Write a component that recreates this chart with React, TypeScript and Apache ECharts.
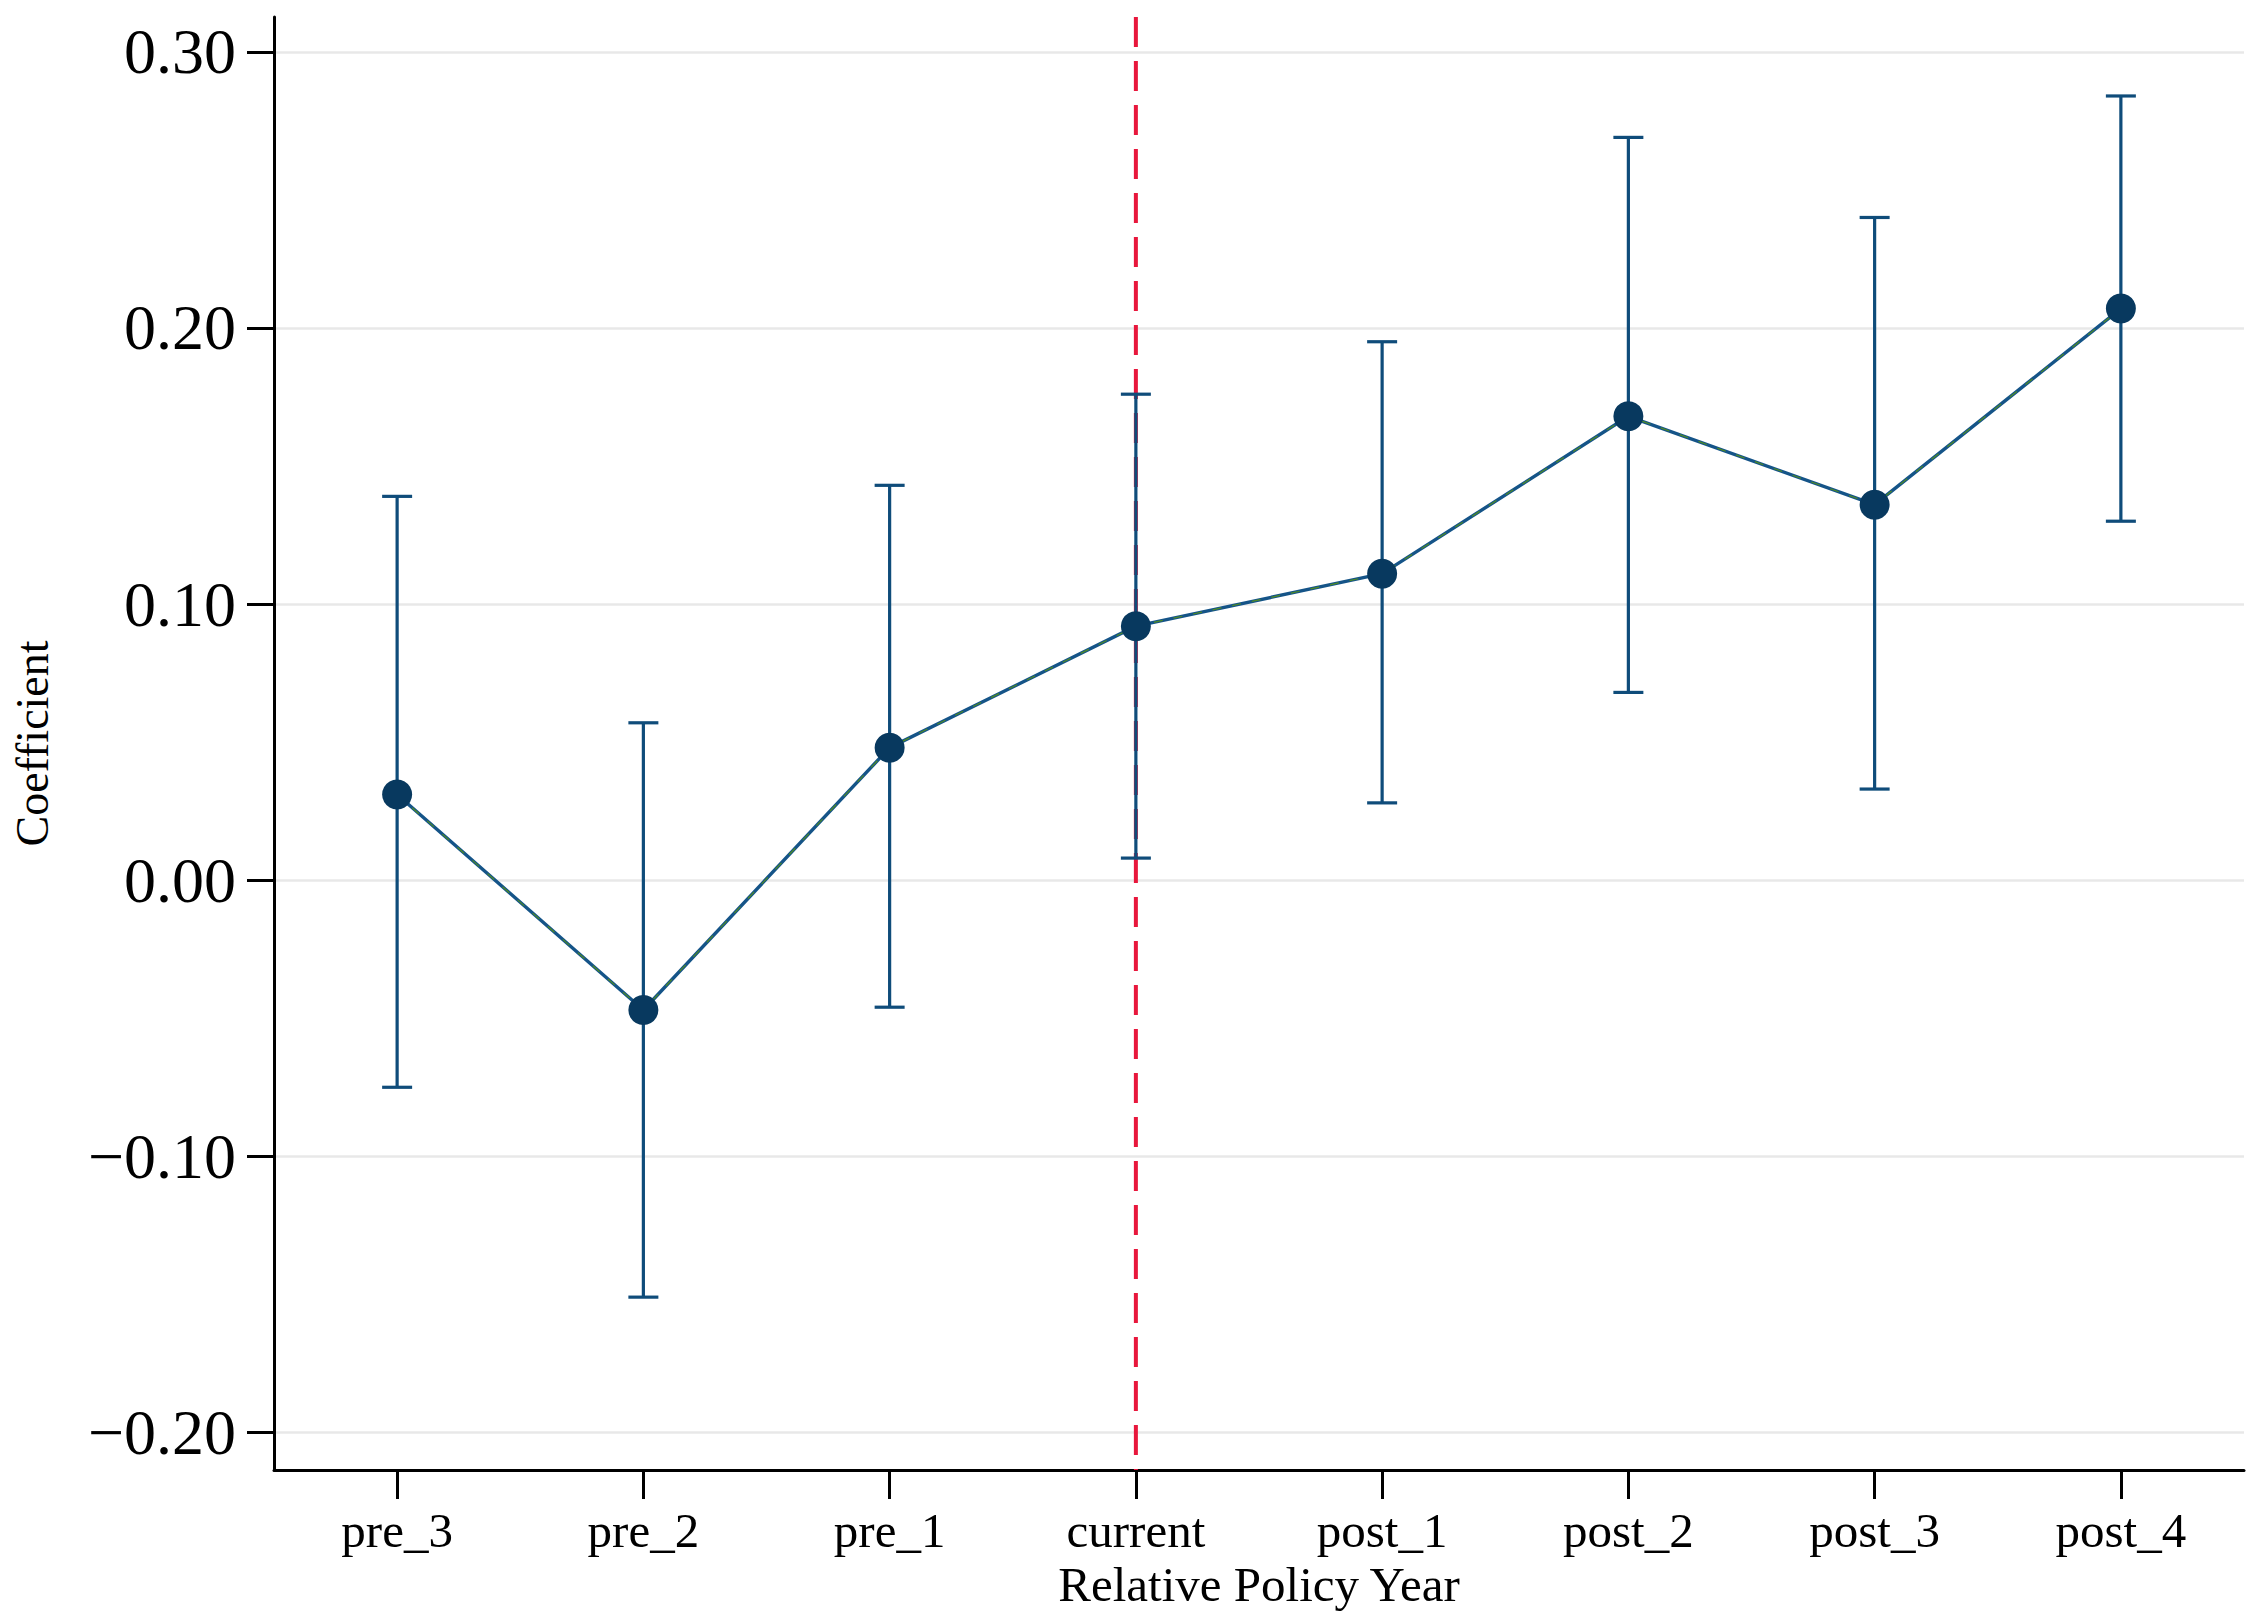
import React, { useEffect, useRef } from "react";
import * as echarts from "echarts";

const categories = ["pre_3", "pre_2", "pre_1", "current", "post_1", "post_2", "post_3", "post_4"];
const coefficients = [0.031, -0.047, 0.048, 0.092, 0.111, 0.168, 0.136, 0.207];
const upperCI = [0.139, 0.057, 0.143, 0.176, 0.195, 0.269, 0.240, 0.284];
const lowerCI = [-0.075, -0.151, -0.046, 0.008, 0.028, 0.068, 0.033, 0.130];
const yTickValues = [-0.2, -0.1, 0, 0.1, 0.2, 0.3];
const policyCategory = "current";
const xAxisTitle = "Relative Policy Year";
const yAxisTitle = "Coefficient";

const FONT = '"Liberation Serif", "Times New Roman", serif';

export default function App() {
  const ref = useRef<HTMLDivElement>(null);

  useEffect(() => {
    document.body.style.margin = "0";
    document.body.style.overflow = "hidden";
    const chart = echarts.init(ref.current!, null, { renderer: "svg" });
    const barColor = "#0f4c7a";
    const option: any = {
      animation: false,
      backgroundColor: "#ffffff",
      grid: { left: 274, right: 15, top: 17, bottom: 152, containLabel: false },
      xAxis: {
        type: "category",
        data: categories,
        boundaryGap: true,
        axisLine: { show: true, onZero: false, lineStyle: { color: "#000", width: 3 } },
        axisTick: { show: true, alignWithLabel: true, length: 29, lineStyle: { color: "#000", width: 3 } },
        axisLabel: { color: "#000", fontSize: 49, fontFamily: FONT, margin: 36 },
        splitLine: { show: false },
        name: xAxisTitle,
        nameLocation: "middle",
        nameGap: 87,
        nameTextStyle: { color: "#000", fontSize: 49, fontFamily: FONT },
      },
      yAxis: {
        type: "value",
        min: -0.2136,
        max: 0.3126,
        axisLine: { show: true, lineStyle: { color: "#000", width: 3 } },
        axisTick: { show: true, length: 27, customValues: yTickValues, lineStyle: { color: "#000", width: 3 } },
        axisLabel: {
          customValues: yTickValues,
          color: "#000",
          fontSize: 64,
          fontFamily: FONT,
          margin: 38,
          formatter: (v: number) => (v < -1e-9 ? "\u2212" : "") + Math.abs(v).toFixed(2),
        },
        splitLine: { show: true, lineStyle: { color: "#e8e8e8", width: 2.5 } },
        name: yAxisTitle,
        nameLocation: "middle",
        nameGap: 219,
        nameTextStyle: { color: "#000", fontSize: 46, fontFamily: FONT },
      },
      series: [
        {
          type: "custom",
          name: "policy",
          z: 1,
          silent: true,
          data: [[categories.indexOf(policyCategory), 0]],
          encode: { x: 0, y: 1 },
          renderItem: (params: any, api: any) => {
            const cs = params.coordSys;
            const x = api.coord([api.value(0), 0])[0];
            return {
              type: "line",
              shape: { x1: x, y1: cs.y, x2: x, y2: cs.y + cs.height },
              style: { stroke: "#e8173c", lineWidth: 4, lineDash: [30, 14] },
            };
          },
        },
        {
          type: "custom",
          name: "ci",
          z: 2,
          silent: true,
          data: categories.map((_, i) => [i, lowerCI[i], upperCI[i]]),
          encode: { x: 0, y: [1, 2] },
          renderItem: (params: any, api: any) => {
            const x = api.value(0);
            const pLo = api.coord([x, api.value(1)]);
            const pHi = api.coord([x, api.value(2)]);
            const half = 15;
            const st = { stroke: barColor, lineWidth: 3.2 };
            return {
              type: "group",
              children: [
                { type: "line", shape: { x1: pHi[0], y1: pHi[1], x2: pLo[0], y2: pLo[1] }, style: st },
                { type: "line", shape: { x1: pHi[0] - half, y1: pHi[1], x2: pHi[0] + half, y2: pHi[1] }, style: st },
                { type: "line", shape: { x1: pLo[0] - half, y1: pLo[1], x2: pLo[0] + half, y2: pLo[1] }, style: st },
              ],
            };
          },
        },
        {
          type: "line",
          name: "coef",
          z: 3,
          data: coefficients,
          symbol: "none",
          lineStyle: { color: "#155488", width: 3.4, opacity: 1 },
        },
        {
          type: "line",
          name: "coefdash",
          z: 4,
          data: coefficients,
          symbol: "none",
          lineStyle: { color: "#4f8a25", width: 1.2, type: [9, 11], opacity: 1 },
        },
        {
          type: "scatter",
          name: "points",
          z: 5,
          data: coefficients,
          symbol: "circle",
          symbolSize: 30,
          itemStyle: { color: "#08395f", opacity: 1 },
        },
      ],
    };
    chart.setOption(option);
    return () => chart.dispose();
  }, []);

  return <div ref={ref} style={{ width: 2259, height: 1622 }} />;
}
